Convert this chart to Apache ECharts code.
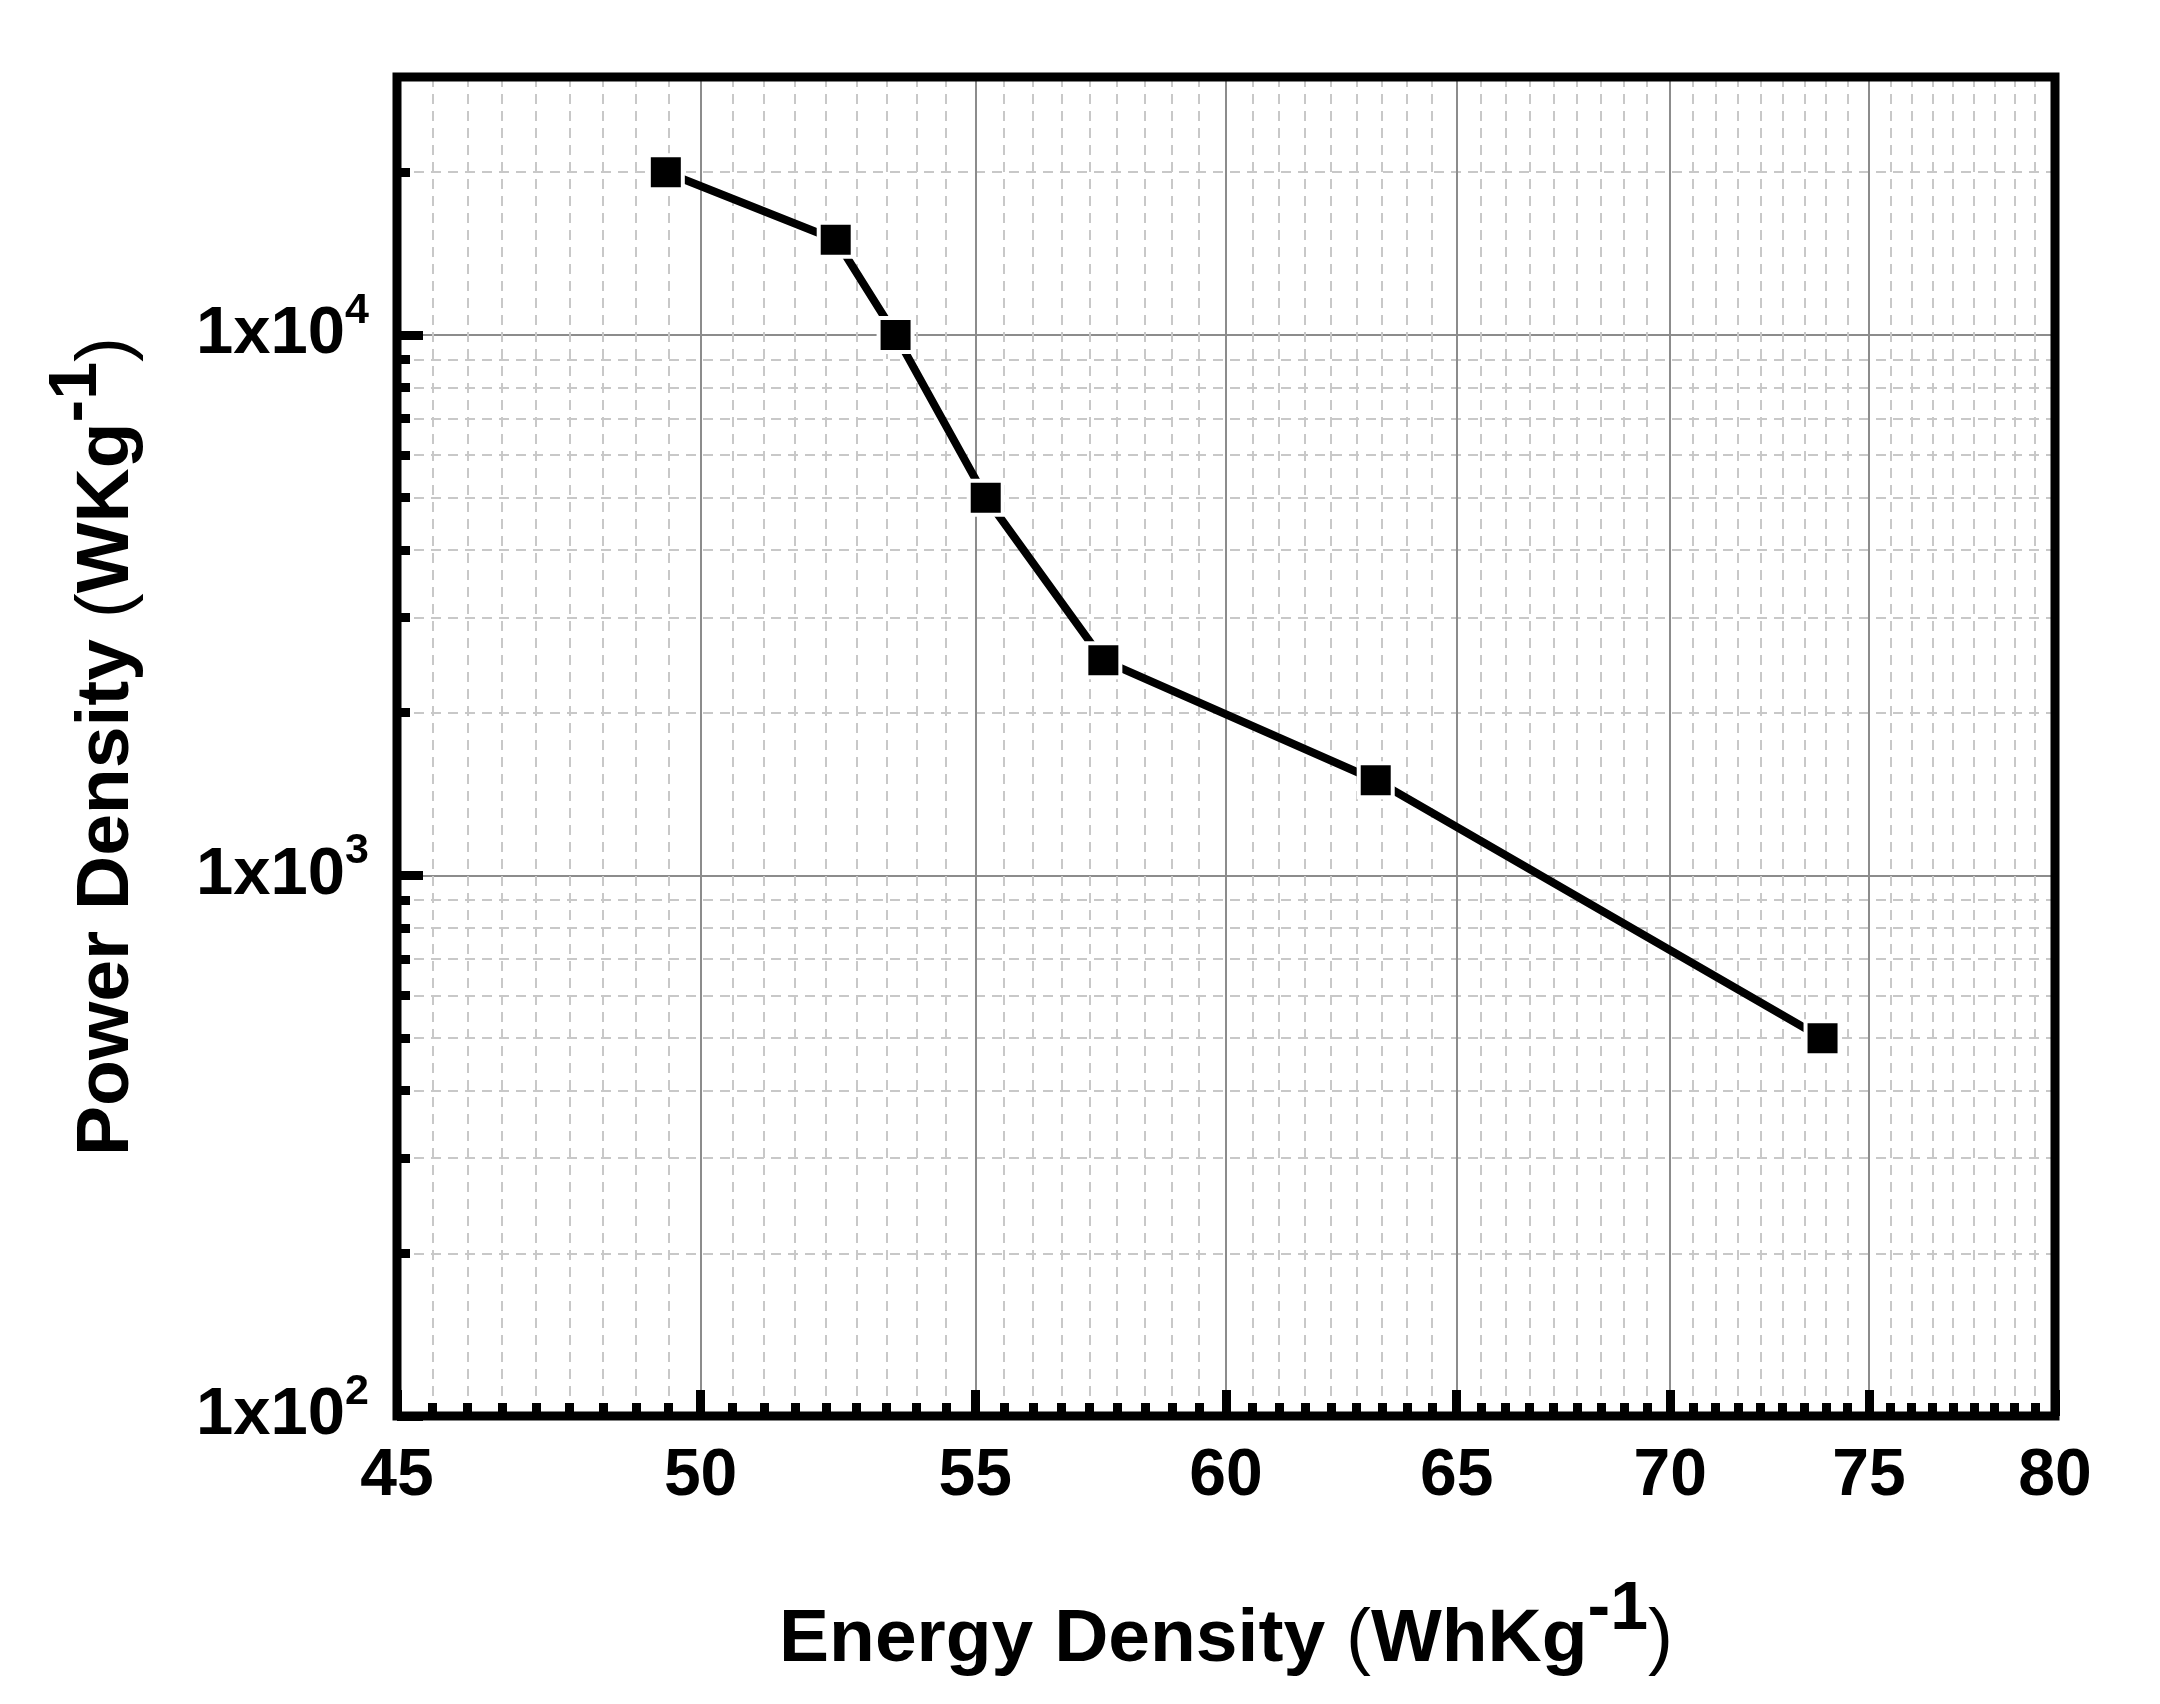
<!DOCTYPE html>
<html><head><meta charset="utf-8">
<script src="https://cdn.jsdelivr.net/npm/echarts@6/dist/echarts.min.js"></script>
<style>html,body{margin:0;padding:0;background:#fff}#c{width:2160px;height:1704px}</style>
</head><body><div id="c"></div><script>
// ---- data ----
const energyDensity = [49.4, 52.4, 53.5, 55.2, 57.5, 63.2, 73.8];
const powerDensity  = [20000, 15000, 10000, 5000, 2500, 1500, 500];
// ---- ticks ----
const xMajorTicks = [45, 50, 55, 60, 65, 70, 75, 80];
const xMinorCount = 8;
const yMajorTicks = [100, 1000, 10000];
const yTickExponents = [2, 3, 4];
const yMinorTicks = [200, 300, 400, 500, 600, 700, 800, 900,
                     2000, 3000, 4000, 5000, 6000, 7000, 8000, 9000, 20000];
const xTitleParts = ['Energy Density ', '(', 'WhKg', '-1', ')'];
const yTitleParts = ['Power Density ', '(', 'WKg', '-1', ')'];

const xMinorTicks = [];
for (let i = 0; i < xMajorTicks.length - 1; i++) {
  const a = xMajorTicks[i], b = xMajorTicks[i + 1];
  for (let k = 1; k <= xMinorCount; k++) xMinorTicks.push(a + (b - a) * k / (xMinorCount + 1));
}

const FONT = '"Liberation Sans", Arial, sans-serif';
const titleRich = {
  b: {fontFamily: FONT, fontWeight: 'bold', fontSize: 75, color: '#000', verticalAlign: 'middle'},
  p: {fontFamily: FONT, fontWeight: 'normal', fontSize: 75, color: '#000', verticalAlign: 'middle'},
  s: {fontFamily: FONT, fontWeight: 'bold', fontSize: 68, color: '#000', verticalAlign: 'middle', padding: [0, 0, 60, 0]}
};
function titleText(parts) {
  return '{b|' + parts[0] + '}{p|' + parts[1] + '}{b|' + parts[2] + '}{s|' + parts[3] + '}{p|' + parts[4] + '}';
}

const X_MIN = 45, X_MAX = 80, Y_MIN = 100, Y_MAX = 30000;
const minorGrid = {show: true, lineStyle: {color: '#c8c8c8', width: 2, type: [10, 7]}};
const majorGrid = {show: true, lineStyle: {color: '#8c8c8c', width: 2}};

function xAx(extra) {
  return Object.assign({type: 'log', logBase: 10, min: X_MIN, max: X_MAX, position: 'bottom',
    axisLine: {show: false, onZero: false}, axisLabel: {show: false}, axisTick: {show: false},
    splitLine: {show: false}, nameMoveOverlap: false}, extra);
}
function yAx(extra) {
  return Object.assign({type: 'log', logBase: 10, min: Y_MIN, max: Y_MAX, position: 'left',
    axisLine: {show: false, onZero: false}, axisLabel: {show: false}, axisTick: {show: false},
    splitLine: {show: false}, nameMoveOverlap: false}, extra);
}

const option = {
  backgroundColor: '#fff',
  animation: false,
  grid: {left: 397, right: 105, top: 77, bottom: 288, containLabel: false, outerBoundsMode: 'none',
         show: true, borderColor: '#000', borderWidth: 9, backgroundColor: 'transparent', z: 10},
  xAxis: [
    xAx({z: 5,
      axisTick: {show: true, inside: true, length: 26, customValues: xMajorTicks, lineStyle: {color: '#000', width: 9}},
      axisLabel: {show: true, customValues: xMajorTicks, margin: 28, showMinLabel: true, showMaxLabel: true,
        fontFamily: FONT, fontWeight: 'bold', fontSize: 66, color: '#000'},
      name: titleText(xTitleParts), nameLocation: 'middle', nameGap: 160,
      nameTextStyle: {rich: titleRich}}),
    xAx({z: 5, axisTick: {show: true, inside: true, length: 13, customValues: xMinorTicks, lineStyle: {color: '#000', width: 9}}}),
    xAx({z: 0, axisTick: {show: false, customValues: xMajorTicks}, splitLine: majorGrid}),
    xAx({z: 0, axisTick: {show: false, customValues: xMinorTicks}, splitLine: minorGrid})
  ],
  yAxis: [
    yAx({z: 5,
      axisTick: {show: true, inside: true, length: 26, customValues: yMajorTicks, lineStyle: {color: '#000', width: 9}},
      axisLabel: {show: true, customValues: yMajorTicks, margin: 28, showMinLabel: true, showMaxLabel: true,
        formatter: function (v) {
          const i = yMajorTicks.indexOf(v);
          const e = i >= 0 ? yTickExponents[i] : Math.round(Math.log10(v));
          return '{b|1x10}{s|' + e + '}';
        },
        rich: {
          b: {fontFamily: FONT, fontWeight: 'bold', fontSize: 67, color: '#000', verticalAlign: 'middle'},
          s: {fontFamily: FONT, fontWeight: 'bold', fontSize: 43, color: '#000', verticalAlign: 'middle', padding: [0, 0, 48, 0]}
        }},
      name: titleText(yTitleParts), nameLocation: 'middle', nameGap: 226, nameRotate: 90,
      nameTextStyle: {rich: titleRich}}),
    yAx({z: 5, axisTick: {show: true, inside: true, length: 13, customValues: yMinorTicks, lineStyle: {color: '#000', width: 9}}}),
    yAx({z: 0, axisTick: {show: false, customValues: yMajorTicks}, splitLine: majorGrid}),
    yAx({z: 0, axisTick: {show: false, customValues: yMinorTicks}, splitLine: minorGrid})
  ],
  series: [{
    type: 'line',
    xAxisIndex: 0, yAxisIndex: 0,
    data: energyDensity.map((x, i) => [x, powerDensity[i]]),
    symbol: 'rect', symbolSize: 34,
    itemStyle: {color: '#000', borderColor: '#fff', borderWidth: 4},
    lineStyle: {color: '#000', width: 8, cap: 'round'},
    z: 3
  }]
};
const chart = echarts.init(document.getElementById('c'), null, {renderer: 'canvas'});
chart.setOption(option);
</script></body></html>
